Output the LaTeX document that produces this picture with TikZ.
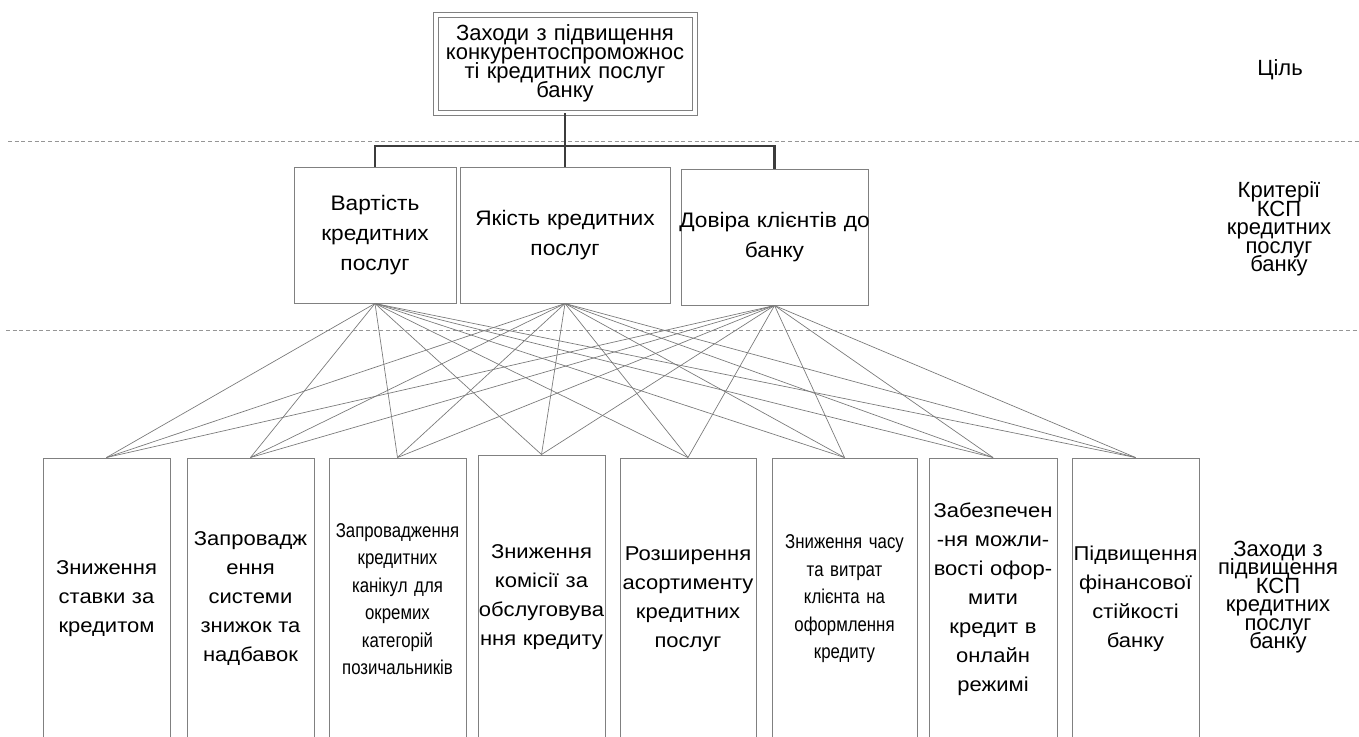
\documentclass[tikz,border=0pt]{standalone}
\usepackage{fontspec}
\setmainfont{Liberation Sans}
\newfontfamily\wfont[FakeStretch=1.08]{Liberation Sans}
\newfontfamily\mfont[FakeStretch=1.1]{Liberation Sans}
\newfontfamily\nfont[FakeStretch=0.84]{Liberation Sans}
\definecolor{boxgray}{RGB}{128,128,128}
\definecolor{linegray}{RGB}{120,120,120}
\definecolor{bargray}{RGB}{60,60,60}
\definecolor{dashgray}{RGB}{150,150,150}
\begin{document}
\begin{tikzpicture}[x=0.75pt,y=-0.75pt,
  boxc/.style={draw=boxgray, line width=0.75pt, fill=white, align=center, inner sep=0pt},
  topbox/.style={draw=boxgray, double=white, double distance=3pt, line width=0.75pt,
    minimum width=194.25pt, minimum height=73.5pt, text width=192pt, align=center, inner sep=0pt,
    font={\fontsize{16.5pt}{14.25pt}\selectfont\lineskiplimit=-100pt}},
  crit/.style={boxc, minimum height=102pt,
    font={\wfont\fontsize{15.75pt}{22.5pt}\selectfont\lineskiplimit=-100pt}},
  meas/.style={boxc, minimum height=211.5pt,
    font={\mfont\fontsize{15pt}{21.75pt}\selectfont\lineskiplimit=-100pt}},
  measn/.style={boxc, minimum height=211.5pt,
    font={\nfont\fontsize{15pt}{20.6pt}\selectfont\lineskiplimit=-100pt}},
  lab/.style={align=center, inner sep=0pt,
    font={\fontsize{16.5pt}{13.9pt}\selectfont\lineskiplimit=-100pt}},
  conn/.style={draw=linegray, line width=0.5pt},
  bar/.style={draw=bargray, line width=1.6pt},
  sep/.style={draw=dashgray, line width=0.6pt, dash pattern=on 3pt off 2pt}]
\useasboundingbox (0,0) rectangle (1359,736);
\clip (0,0) rectangle (1359,736);
\fill[white] (0,0) rectangle (1359,736);

% separators
\coordinate (s1a) at (8,141);
\coordinate (s1b) at (1359,141);
\coordinate (s2a) at (6,330);
\coordinate (s2b) at (1359,330);
\draw[sep] (s1a) -- (s1b);
\draw[sep] (s2a) -- (s2b);

% goal
\node[topbox] (goal) at (565,63.5) {Заходи з підвищення\\конкурентоспроможнос\\ті кредитних послуг\\банку};

% criteria
\node[crit, text width=121.5pt] (c1) at (375,235) {Вартість\\кредитних\\послуг};
\node[crit, text width=157.5pt] (c2) at (565,235) {Якість кредитних\\послуг};
\node[crit, text width=140.25pt] (c3) at (774.5,237) {\makebox[140.25pt]{Довіра клієнтів до}\\банку};

% bar
\coordinate (barY) at (0,146);
\draw[bar] (goal.south) -- (c2.north);
\draw[bar] (c1.north) -- (c1.north |- barY) -- (c3.north |- barY) -- (c3.north);

% measures
\node[meas, text width=95.25pt] (m1) at (106.5,599) {Зниження\\ставки за\\кредитом};
\node[meas, text width=95.25pt] (m2) at (250.5,599) {Запровадж\\ення\\системи\\знижок та\\надбавок};
\node[measn, text width=102.75pt] (m3) at (397.5,599) {Запровадження\\кредитних\\канікул для\\окремих\\категорій\\позичальників};
\node[meas, text width=95.25pt, minimum height=213.75pt] (m4) at (541.5,597.5) {Зниження\\комісії за\\обслуговува\\ння кредиту};
\node[meas, text width=102pt] (m5) at (688,599) {Розширення\\асортименту\\кредитних\\послуг};
\node[measn, text width=108.75pt] (m6) at (844.5,599) {Зниження часу\\та витрат\\клієнта на\\оформлення\\кредиту};
\node[meas, text width=96pt] (m7) at (993,599) {Забезпечен\\-ня можли-\\вості офор-\\мити\\кредит в\\онлайн\\режимі};
\node[meas, text width=95.25pt] (m8) at (1135.5,599) {Підвищення\\фінансової\\стійкості\\банку};

% connectors
\foreach \c in {c1,c2,c3}{
  \foreach \m in {m1,m2,m3,m4,m5,m6,m7,m8}{
    \draw[conn] (\c.south) -- (\m.north);
  }
}

% level labels
\node[lab] (l1) at (1280,70) {Ціль};
\node[lab] (l2) at (1279,229) {Критерії\\КСП\\кредитних\\послуг\\банку};
\node[lab] (l3) at (1278,597) {Заходи з\\підвищення\\КСП\\кредитних\\послуг\\банку};
\end{tikzpicture}
\end{document}
